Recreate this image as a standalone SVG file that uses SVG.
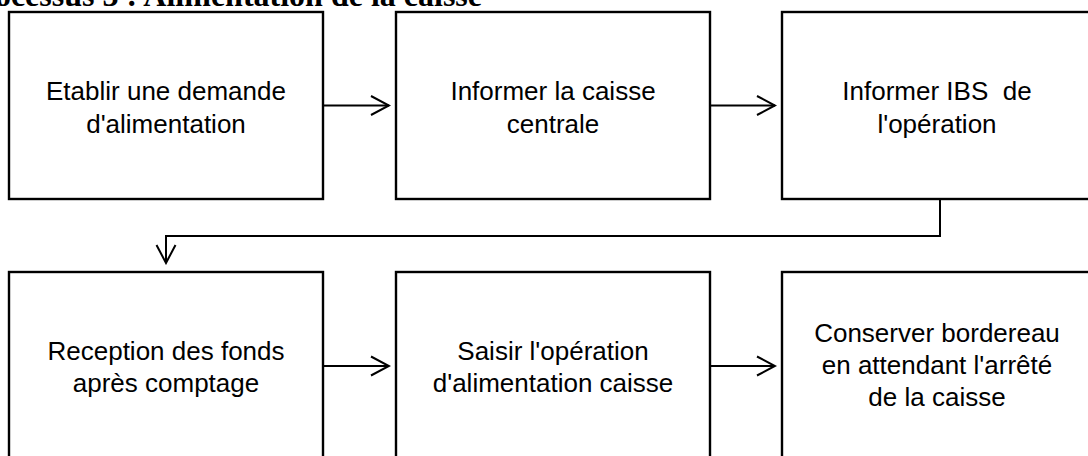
<svg xmlns="http://www.w3.org/2000/svg" width="1088" height="456" viewBox="0 0 1088 456">
<style>
.box{fill:#fff;stroke:#000;stroke-width:2.4}
.lbl{font-family:"Liberation Sans",Arial,sans-serif;font-size:26px;fill:#000;text-anchor:middle}
.title{font-family:"Liberation Serif","Times New Roman",serif;font-size:32px;font-weight:bold;fill:#000}
.con{fill:none;stroke:#000;stroke-width:2}
</style>
<defs>
<marker id="arr" viewBox="-21 -12 23 24" markerWidth="23" markerHeight="24" refX="0" refY="0" markerUnits="userSpaceOnUse" orient="auto">
<path d="M-18,-9.5 L0,0 L-18,9.5" fill="none" stroke="#000" stroke-width="2"/>
</marker>
</defs>
<rect width="1088" height="456" fill="#fff"/>
<text class="title" x="482" y="6" text-anchor="end">ocessus 3 : Alimentation de la caisse</text>
<g id="n1"><rect class="box" x="9" y="12" width="314" height="187"/>
<text class="lbl" x="166" y="100">Etablir une demande</text><text class="lbl" x="166" y="132.5">d'alimentation</text></g>
<g id="n2"><rect class="box" x="396" y="12" width="314" height="187"/>
<text class="lbl" x="553" y="100">Informer la caisse</text><text class="lbl" x="553" y="132.5">centrale</text></g>
<g id="n3"><rect class="box" x="782" y="12" width="314" height="187"/>
<text class="lbl" x="937" y="100" xml:space="preserve">Informer IBS  de</text><text class="lbl" x="937" y="132.5">l'opération</text></g>
<g id="n4"><rect class="box" x="9" y="272" width="314" height="187"/>
<text class="lbl" x="166" y="359.5">Reception des fonds</text><text class="lbl" x="166" y="391.5">après comptage</text></g>
<g id="n5"><rect class="box" x="396" y="272" width="314" height="187"/>
<text class="lbl" x="553" y="359.5">Saisir l'opération</text><text class="lbl" x="553" y="391.5">d'alimentation caisse</text></g>
<g id="n6"><rect class="box" x="782" y="272" width="314" height="187"/>
<text class="lbl" x="937" y="342">Conserver bordereau</text><text class="lbl" x="937" y="374">en attendant l'arrêté</text><text class="lbl" x="937" y="406">de la caisse</text></g>
<g id="connectors">
<path class="con" d="M323,105.5 H389" marker-end="url(#arr)"/>
<path class="con" d="M710,105.5 H775" marker-end="url(#arr)"/>
<path class="con" d="M940,199 V236 H166 V263" marker-end="url(#arr)"/>
<path class="con" d="M323,366 H389" marker-end="url(#arr)"/>
<path class="con" d="M710,366 H775" marker-end="url(#arr)"/>
</g>
</svg>
